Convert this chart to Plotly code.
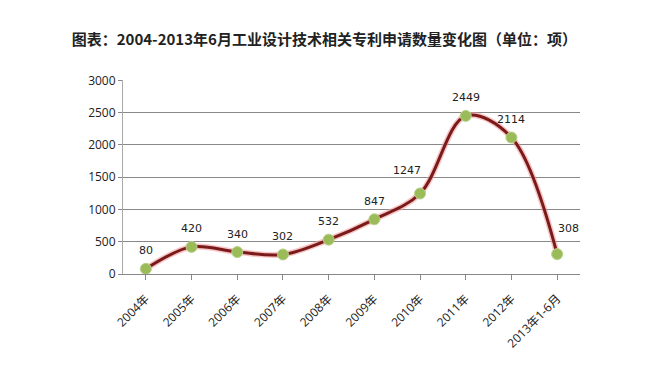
import plotly.graph_objects as go

categories = ["2004年", "2005年", "2006年", "2007年", "2008年", "2009年", "2010年", "2011年", "2012年", "2013年1-6月"]
values = [80, 420, 340, 302, 532, 847, 1247, 2449, 2114, 308]
y_ticks = [0, 500, 1000, 1500, 2000, 2500, 3000]

# label placement tweaks (style only)
label_shift = {"2010年": (-13, 23), "2013年1-6月": (11, 26)}

fig = go.Figure()
# glow
fig.add_trace(go.Scatter(x=categories, y=values, mode="lines",
                         line=dict(color="rgba(240,150,150,0.55)", width=6, shape="spline", smoothing=1),
                         hoverinfo="skip", showlegend=False))
fig.add_trace(go.Scatter(x=categories, y=values, mode="lines+markers",
                         line=dict(color="#7a1a1a", width=3, shape="spline", smoothing=1),
                         marker=dict(size=11, color="#9bbb59", line=dict(color="#b8d08a", width=1)),
                         showlegend=False))
for c, v in zip(categories, values):
    xs, ys = label_shift.get(c, (0, 18))
    fig.add_annotation(x=c, y=v, text=str(v), showarrow=False, xshift=xs, yshift=ys,
                       font=dict(family="DejaVu Sans, Open Sans", size=11, color="#222"))

fig.update_layout(
    width=659, height=364,
    margin=dict(l=115, r=87, t=72, b=98, autoexpand=False),
    paper_bgcolor="white", plot_bgcolor="white",
    title=dict(text="<b>图表：2004-2013年6月工业设计技术相关专利申请数量变化图（单位：项）</b>",
               x=0.48, xanchor="center", y=0.912, yanchor="middle",
               font=dict(family="Noto Sans CJK SC", size=15, color="#222")),
    xaxis=dict(type="category", showgrid=False, showline=True, linecolor="#888", linewidth=1,
               ticks="outside", ticklen=5, tickcolor="#888", tickangle=-45, automargin=False,
               ticklabelstandoff=7,
               tickfont=dict(family="Open Sans, Noto Sans CJK SC", size=12, color="#222"),
               range=[-0.5, 9.5]),
    yaxis=dict(range=[0, 3005], tickvals=y_ticks, showgrid=True, gridcolor="#888", gridwidth=1,
               showline=True, linecolor="#aaa", linewidth=1,
               ticks="outside", ticklen=4, tickcolor="#888", zeroline=False,
               automargin=False,
               tickfont=dict(family="Open Sans", size=12, color="#222")),
)
fig.write_html("out.html")
